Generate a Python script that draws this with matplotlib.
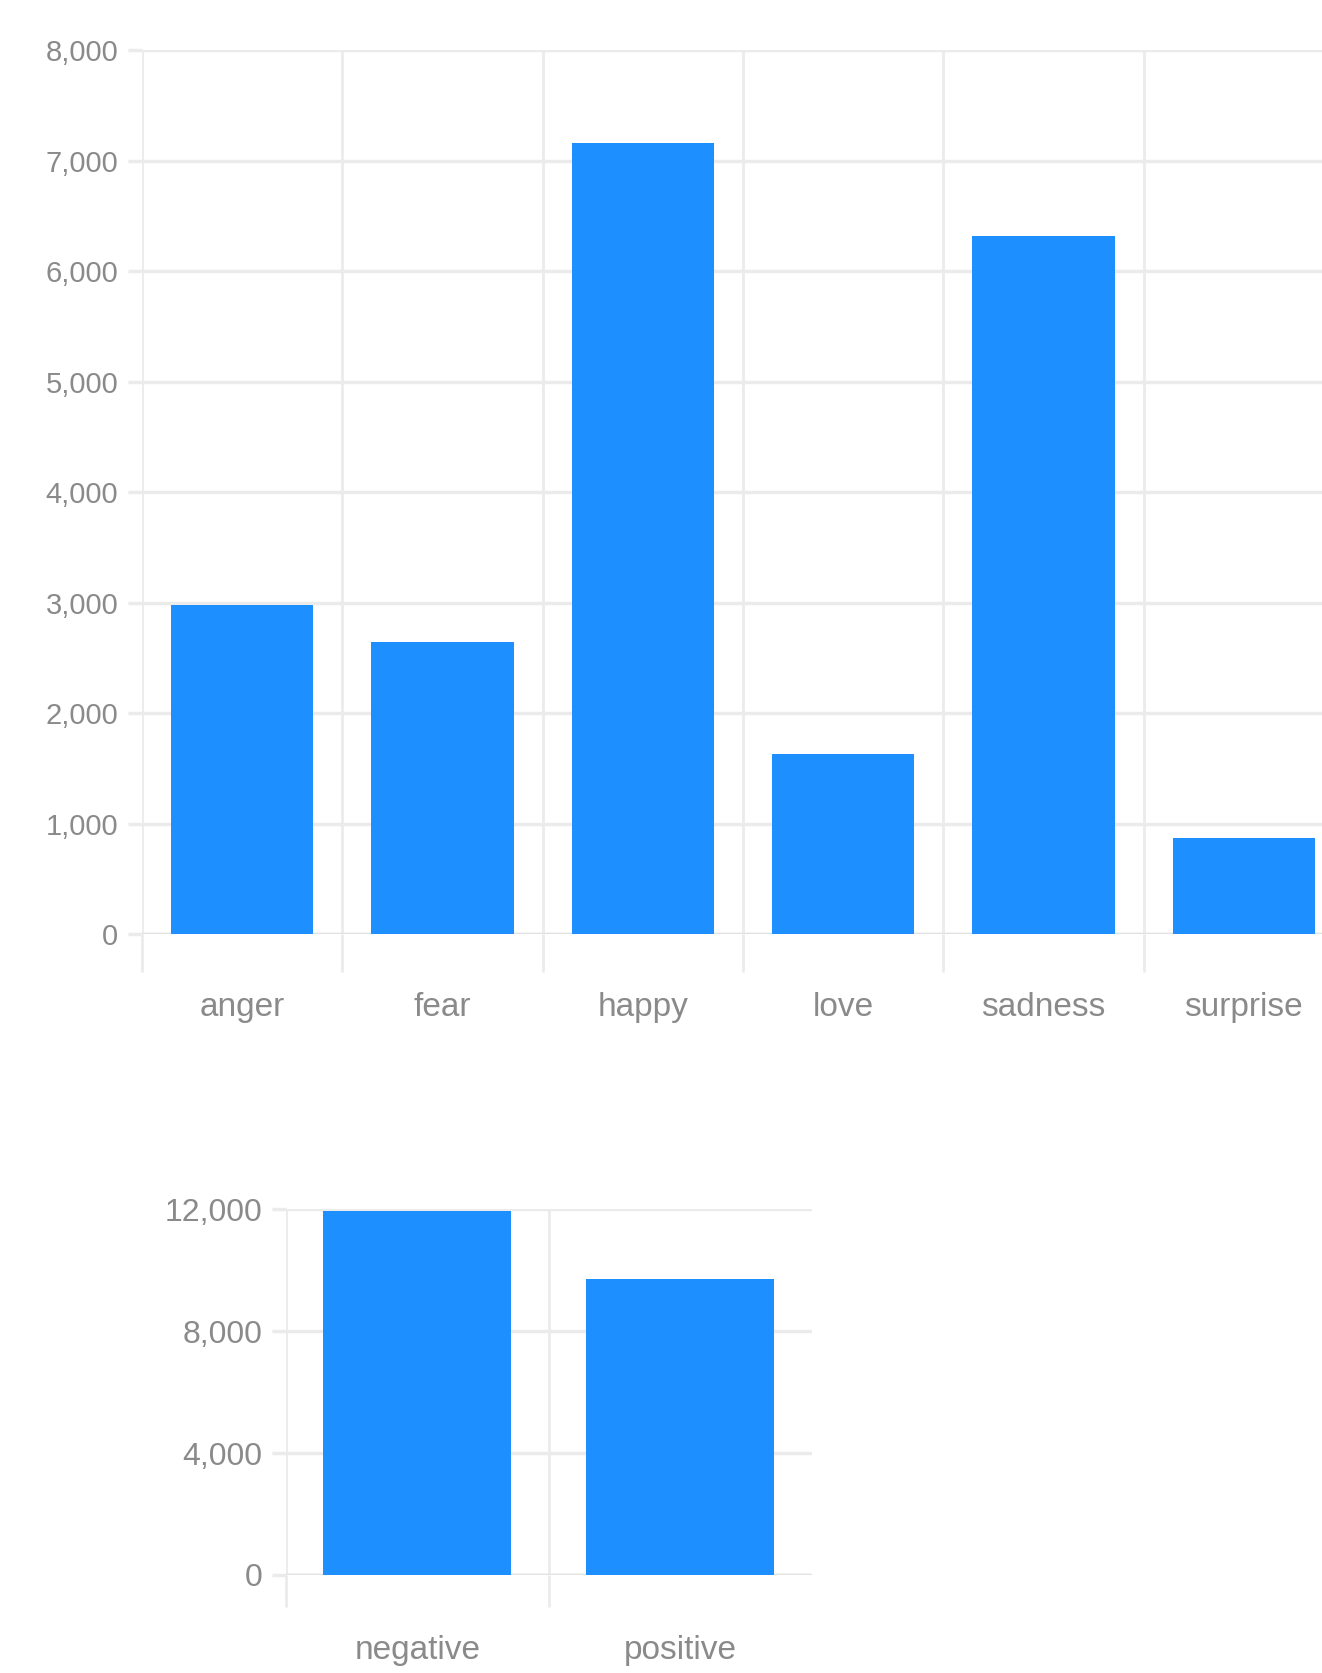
import numpy as np
import matplotlib
matplotlib.use("Agg")
import matplotlib.pyplot as plt
from matplotlib.ticker import FuncFormatter, FixedLocator

plt.rcParams['font.family'] = ['Liberation Sans', 'DejaVu Sans']

emotions = ['anger', 'fear', 'happy', 'love', 'sadness', 'surprise']
emotion_counts = [2980, 2640, 7160, 1625, 6320, 870]
emotion_ticks = [0, 1000, 2000, 3000, 4000, 5000, 6000, 7000, 8000]

sentiments = ['negative', 'positive']
sentiment_counts = [11940, 9700]
sentiment_ticks = [0, 4000, 8000, 12000]

bar_color = '#1e8fff'
grid_color = '#ebebeb'
text_color = '#8a8a8a'

fmt = FuncFormatter(lambda v, p: f'{int(v):,}')


def style_axes(ax, n, ticks, ysize, xsize, xpad, bandtick):
    ax.set_xlim(-0.5, n - 0.5)
    ax.set_ylim(ticks[0], ticks[-1])
    ax.set_yticks(ticks)
    ax.yaxis.set_major_formatter(fmt)
    ax.set_xticks(range(n))
    # band boundaries, no line on the far right edge
    ax.xaxis.set_minor_locator(FixedLocator(np.arange(-0.5, n - 1, 1.0)))
    for s in ax.spines.values():
        s.set_visible(False)
    ax.grid(axis='y', color=grid_color, linewidth=2.5)
    ax.grid(axis='x', which='minor', color=grid_color, linewidth=2)
    ax.set_axisbelow(True)
    ax.tick_params(axis='y', length=10, width=2.5, color=grid_color,
                   labelcolor=text_color, labelsize=ysize, pad=7)
    ax.tick_params(axis='x', which='major', length=0, labelcolor=text_color,
                   labelsize=xsize, pad=xpad)
    ax.tick_params(axis='x', which='minor', length=bandtick, width=2,
                   color=grid_color)
    ax.axhline(0, color='#e2e2e2', linewidth=2.5, zorder=1)


fig = plt.figure(figsize=(13.22, 16.73), dpi=100)

ax1 = fig.add_axes([0.1074, 0.4417, 0.9092, 0.5284])
ax1.bar(range(len(emotions)), emotion_counts, width=0.71, color=bar_color, zorder=3)
ax1.set_xticklabels(emotions)
style_axes(ax1, len(emotions), emotion_ticks, 21, 24, 42, 27)

ax2 = fig.add_axes([0.2163, 0.0586, 0.3979, 0.2187])
ax2.bar(range(len(sentiments)), sentiment_counts, width=0.715, color=bar_color, zorder=3)
ax2.set_xticklabels(sentiments)
style_axes(ax2, len(sentiments), sentiment_ticks, 23, 24, 43, 23)
for b in ax2.patches:
    b.set_clip_on(False)

fig.savefig('out.png', dpi=100, facecolor='white')
